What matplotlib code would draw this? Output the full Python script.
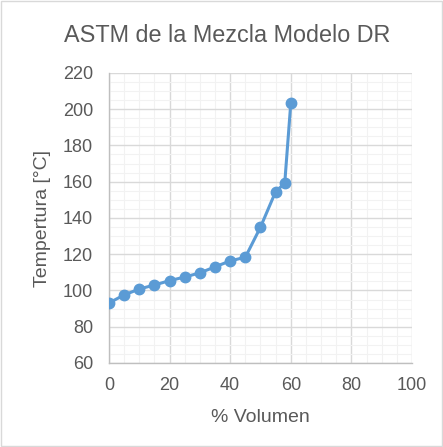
import numpy as np
import matplotlib.pyplot as plt
from matplotlib.patches import Rectangle
from matplotlib.ticker import MultipleLocator

plt.rcParams['font.family'] = ['Liberation Sans', 'DejaVu Sans']

# % volumen recovered vs temperature
volumen = [0, 5, 10, 15, 20, 25, 30, 35, 40, 45, 50, 55, 58, 60]
temperatura = [93.1, 97.5, 100.8, 103.0, 105.4, 107.4, 109.7, 113.0, 116.3, 118.3, 134.9, 154.5, 159.1, 203.3]

txt = '#595959'
blue = '#5B9BD5'

fig = plt.figure(figsize=(4.43, 4.47), dpi=100)
ax = fig.add_axes([0.246, 0.188, 0.684, 0.649])

ax.plot(volumen, temperatura, color=blue, linewidth=2.2, marker='o', markersize=7.5, zorder=3)

ax.set_xlim(0, 100)
ax.set_ylim(60, 220)
ax.xaxis.set_major_locator(MultipleLocator(20))
ax.xaxis.set_minor_locator(MultipleLocator(5))
ax.yaxis.set_major_locator(MultipleLocator(20))
ax.yaxis.set_minor_locator(MultipleLocator(5))
ax.grid(which='major', color='#D9D9D9', linewidth=1.0)
ax.grid(which='minor', color='#F2F2F2', linewidth=0.8)
ax.set_axisbelow(True)

for s in ['top', 'right']:
    ax.spines[s].set_visible(False)
for s in ['left', 'bottom']:
    ax.spines[s].set_color('#BFBFBF')
    ax.spines[s].set_linewidth(1.0)

ax.tick_params(which='both', length=0, colors=txt, labelsize=13)
ax.tick_params(axis='y', pad=11.5)
ax.tick_params(axis='x', pad=10)

fig.text(0.587, 0.067, '% Volumen', ha='center', va='center', fontsize=14, color=txt)
fig.text(0.097, 0.512, 'Tempertura [°C]', ha='center', va='center', rotation=90, fontsize=14, color=txt)
fig.text(0.512, 0.906, 'ASTM de la Mezcla Modelo DR', ha='center', va='baseline', fontsize=16.8, color=txt)

fig.patches.append(Rectangle((0.002, 0.002), 0.996, 0.996, transform=fig.transFigure,
                             fill=False, edgecolor='#D9D9D9', linewidth=1.0))

fig.savefig('out.png', dpi=100)
